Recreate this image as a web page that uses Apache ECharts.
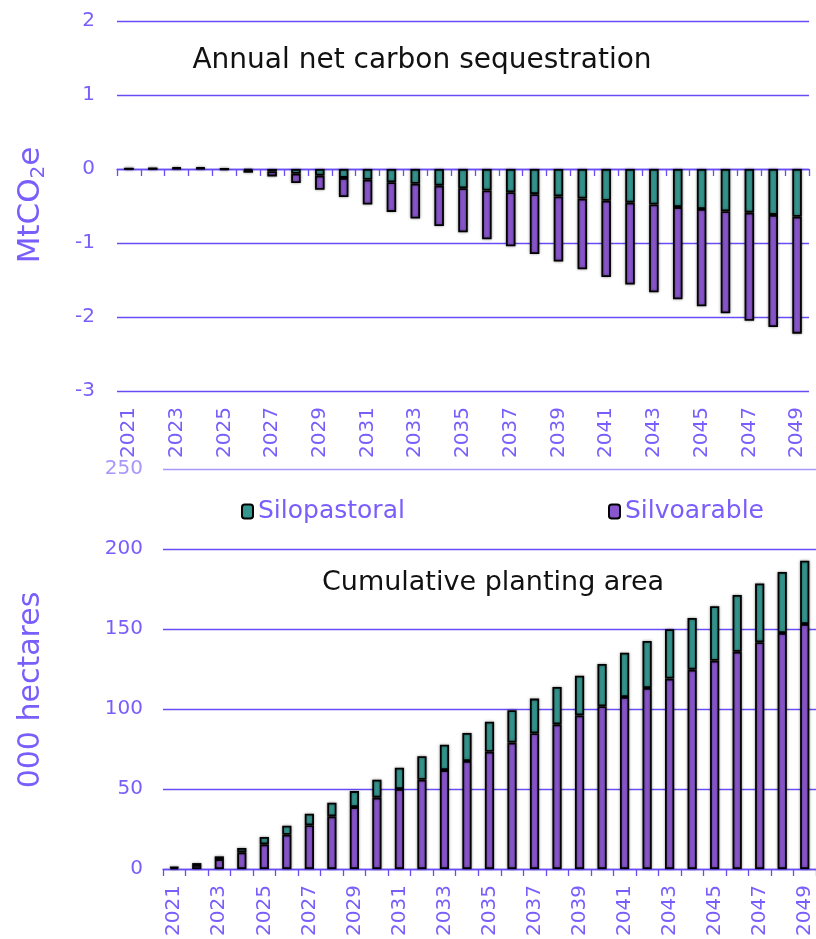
<!DOCTYPE html>
<html><head><meta charset="utf-8">
<script src="https://cdn.jsdelivr.net/npm/echarts@6/dist/echarts.min.js"></script>
<style>html,body{margin:0;padding:0;background:#fff}#c{width:816px;height:939px}</style>
</head><body><div id="c"></div>
<script>
const years = ['2021','2022','2023','2024','2025','2026','2027','2028','2029','2030','2031','2032','2033','2034','2035','2036','2037','2038','2039','2040','2041','2042','2043','2044','2045','2046','2047','2048','2049'];
// Annual net carbon sequestration (MtCO2e)
const annualSilopastoral = [0.004,0.006,0.01,0.01,0.004,-0.015,-0.03,-0.065,-0.09,-0.12,-0.145,-0.18,-0.2,-0.225,-0.26,-0.29,-0.315,-0.34,-0.37,-0.4,-0.43,-0.455,-0.48,-0.515,-0.54,-0.57,-0.59,-0.62,-0.645];
const annualSilvoarable = [0.003,0.004,0.012,0.012,-0.012,-0.035,-0.07,-0.125,-0.19,-0.26,-0.335,-0.4,-0.47,-0.545,-0.595,-0.66,-0.73,-0.81,-0.88,-0.955,-1.03,-1.105,-1.185,-1.245,-1.315,-1.38,-1.46,-1.515,-1.58];
// Cumulative planting area (000 hectares)
const areaSilvoarable = [0.9,2.5,6.2,10.4,15.4,21.4,27.3,32.9,38.7,44.6,50.0,55.8,61.8,67.5,73.3,79.0,84.8,90.4,96.0,101.7,107.5,113.1,119.0,124.6,130.2,135.8,141.7,147.5,153.1];
const areaSilopastoral = [0.3,1.2,1.7,2.7,4.6,5.6,7.3,8.5,10.0,11.2,13.3,14.7,15.9,17.5,18.8,20.2,21.7,23.35,24.8,26.4,27.7,29.4,30.8,32.3,34.0,35.45,36.8,38.1,39.6];

const FONT = 'DejaVu Sans';
const TXT = '#7A5EFB';
const LINE = '#6A4CF6';
const LIGHT = '#A898FB';
const TEAL = '#35968F';
const PURPLE = '#8A56CD';
const barStyle = c => ({color: c, borderColor: '#000', borderWidth: 1.8, shadowColor: 'rgba(0,0,0,0.4)', shadowBlur: 3});

const chart = echarts.init(document.getElementById('c'));
chart.setOption({
  animation: false,
  textStyle: {fontFamily: FONT},
  title: [
    {text: 'Annual net carbon sequestration', left: 417, top: 42, textAlign: 'center',
     textStyle: {fontFamily: FONT, fontSize: 28, fontWeight: 'normal', color: '#111'}},
    {text: 'Cumulative planting area', left: 488, top: 564, textAlign: 'center',
     textStyle: {fontFamily: FONT, fontSize: 27, fontWeight: 'normal', color: '#111'}}
  ],
  legend: [
    {data: ['Silopastoral'], left: 236, top: 494, itemWidth: 11, itemHeight: 14, itemGap: 7,
     textStyle: {fontFamily: FONT, fontSize: 25, color: TXT}},
    {data: ['Silvoarable'], left: 603, top: 494, itemWidth: 11, itemHeight: 14, itemGap: 7,
     textStyle: {fontFamily: FONT, fontSize: 25, color: TXT}}
  ],
  graphic: [
    {type: 'text', x: 31, y: 205, rotation: Math.PI/2,
     style: {text: '{a|MtCO}{s|2}{a|e}', align: 'center', verticalAlign: 'middle',
       rich: {a: {fontFamily: FONT, fontSize: 31, fill: TXT},
              s: {fontFamily: FONT, fontSize: 20, fill: TXT, padding: [16,0,0,0]}}}},
    {type: 'text', x: 31, y: 690, rotation: Math.PI/2,
     style: {text: '000 hectares', align: 'center', verticalAlign: 'middle',
       fontFamily: FONT, fontSize: 30, fill: TXT}}
  ],
  grid: [
    {left: 117, right: 7, top: 21, height: 370},
    {left: 163, right: -4, top: 469, height: 400}
  ],
  xAxis: [
    {type: 'category', gridIndex: 0, data: years, position: 'bottom',
     axisLine: {show: false, onZero: false}, axisTick: {show: false},
     axisLabel: {rotate: 90, interval: 1, margin: 16, fontFamily: FONT, fontSize: 20, color: TXT}},
    {type: 'category', gridIndex: 0, data: years, position: 'top',
     axisLine: {show: true, onZero: true, lineStyle: {color: LINE, width: 1.3}},
     axisTick: {show: true, inside: true, length: 7, interval: 0, lineStyle: {color: LINE, width: 1.3}},
     axisLabel: {show: false}},
    {type: 'category', gridIndex: 1, data: years, position: 'bottom',
     axisLine: {show: true, lineStyle: {color: LINE, width: 1.3}},
     axisTick: {show: true, length: 7, interval: 0, lineStyle: {color: LINE, width: 1.3}},
     axisLabel: {rotate: 90, interval: 1, margin: 16, fontFamily: FONT, fontSize: 20, color: TXT}}
  ],
  yAxis: [
    {type: 'value', gridIndex: 0, min: -3, max: 2, interval: 1,
     axisLine: {show: false}, axisTick: {show: false},
     splitLine: {show: true, lineStyle: {color: LINE, width: 1.3, type: 'solid', opacity: 1}},
     axisLabel: {margin: 22, fontFamily: FONT, fontSize: 20, color: TXT}},
    {type: 'value', gridIndex: 1, min: 0, max: 250, interval: 50,
     axisLine: {show: false}, axisTick: {show: false},
     splitLine: {show: true, lineStyle: {color: [LINE, LINE, LINE, LINE, LINE, LIGHT], width: 1.3, type: 'solid', opacity: 1}},
     axisLabel: {margin: 20, fontFamily: FONT, fontSize: 20,
       color: v => (v >= 250 ? LIGHT : TXT)}}
  ],
  series: [
    {name: 'Silopastoral', type: 'bar', stack: 'annual', xAxisIndex: 0, yAxisIndex: 0,
     barWidth: '40%', data: annualSilopastoral, itemStyle: barStyle(TEAL)},
    {name: 'Silvoarable', type: 'bar', stack: 'annual', xAxisIndex: 0, yAxisIndex: 0,
     barWidth: '40%', data: annualSilvoarable, itemStyle: barStyle(PURPLE)},
    {name: 'Silvoarable', type: 'bar', stack: 'area', xAxisIndex: 2, yAxisIndex: 1,
     barWidth: '41%', data: areaSilvoarable, itemStyle: barStyle(PURPLE)},
    {name: 'Silopastoral', type: 'bar', stack: 'area', xAxisIndex: 2, yAxisIndex: 1,
     barWidth: '41%', data: areaSilopastoral, itemStyle: barStyle(TEAL)}
  ]
});
</script></body></html>
